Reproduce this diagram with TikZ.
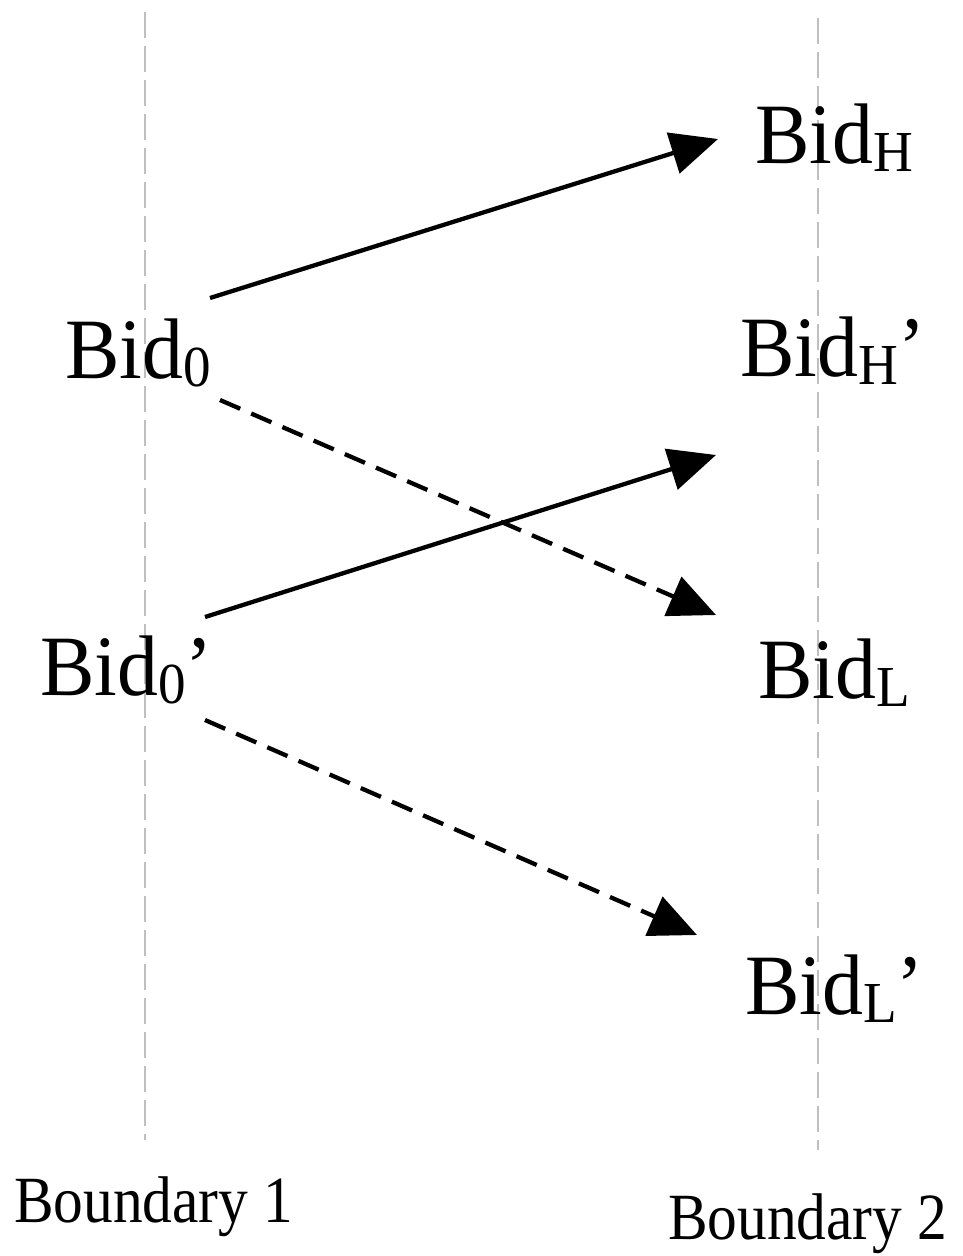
\documentclass[tikz,border=0pt]{standalone}
\usepackage{fontspec}
\setmainfont{Liberation Serif}
\newfontfamily\bidfont[FakeStretch=0.95]{Liberation Serif}
\newfontfamily\bndfont[FakeStretch=0.9]{Liberation Serif}
\usetikzlibrary{arrows.meta}
\begin{document}
\begin{tikzpicture}[x=1pt,y=-1pt,
  lbl/.style={anchor=base west,inner sep=0pt,font=\bidfont\fontsize{86}{100}\selectfont},
  blbl/.style={anchor=base west,inner sep=0pt,font=\bndfont\fontsize{66}{76}\selectfont},
  bound/.style={draw=black!25,line width=2pt,dash pattern=on 26pt off 8pt},
  conn/.style={line width=4.3pt,-{Triangle[length=47pt,width=42pt]}},
  dconn/.style={conn,dash pattern=on 22pt off 12pt}]
\useasboundingbox (0,0) rectangle (963,1256);
\fill[white] (0,0) rectangle (963,1256);
% boundaries
\coordinate (l1a) at (145,12); \coordinate (l1b) at (145,1140);
\coordinate (l2a) at (818,18); \coordinate (l2b) at (818,1150);
\draw[bound] (l1a) -- (l1b);
\draw[bound] (l2a) -- (l2b);
% labels
\newcommand{\sbs}[1]{\raisebox{-8pt}{\fontsize{58}{66}\selectfont #1}}
\node[lbl] (bh) at (755,163) {Bid\sbs{H}};
\node[lbl] (b0) at (65,378) {Bid\sbs{0}};
\node[lbl] (bhp) at (740,376) {Bid\sbs{H}’};
\node[lbl] (b0p) at (40,695) {Bid\sbs{0}’};
\node[lbl] (bl) at (758,698) {Bid\sbs{L}};
\node[lbl] (blp) at (745,1014) {Bid\sbs{L}’};
\node[blbl] (bd1) at (14,1222) {Boundary 1};
\node[blbl] (bd2) at (668,1239) {Boundary 2};
% connector ends
\coordinate (s1) at (210,298); \coordinate (e1) at (718,139);
\coordinate (s2) at (220,400); \coordinate (e2) at (716,615);
\coordinate (s3) at (205,617); \coordinate (e3) at (716,455);
\coordinate (s4) at (205,720); \coordinate (e4) at (697,935);
\draw[conn] (s1) -- (e1);
\draw[dconn] (s2) -- (e2);
\draw[conn] (s3) -- (e3);
\draw[dconn] (s4) -- (e4);
\end{tikzpicture}
\end{document}
